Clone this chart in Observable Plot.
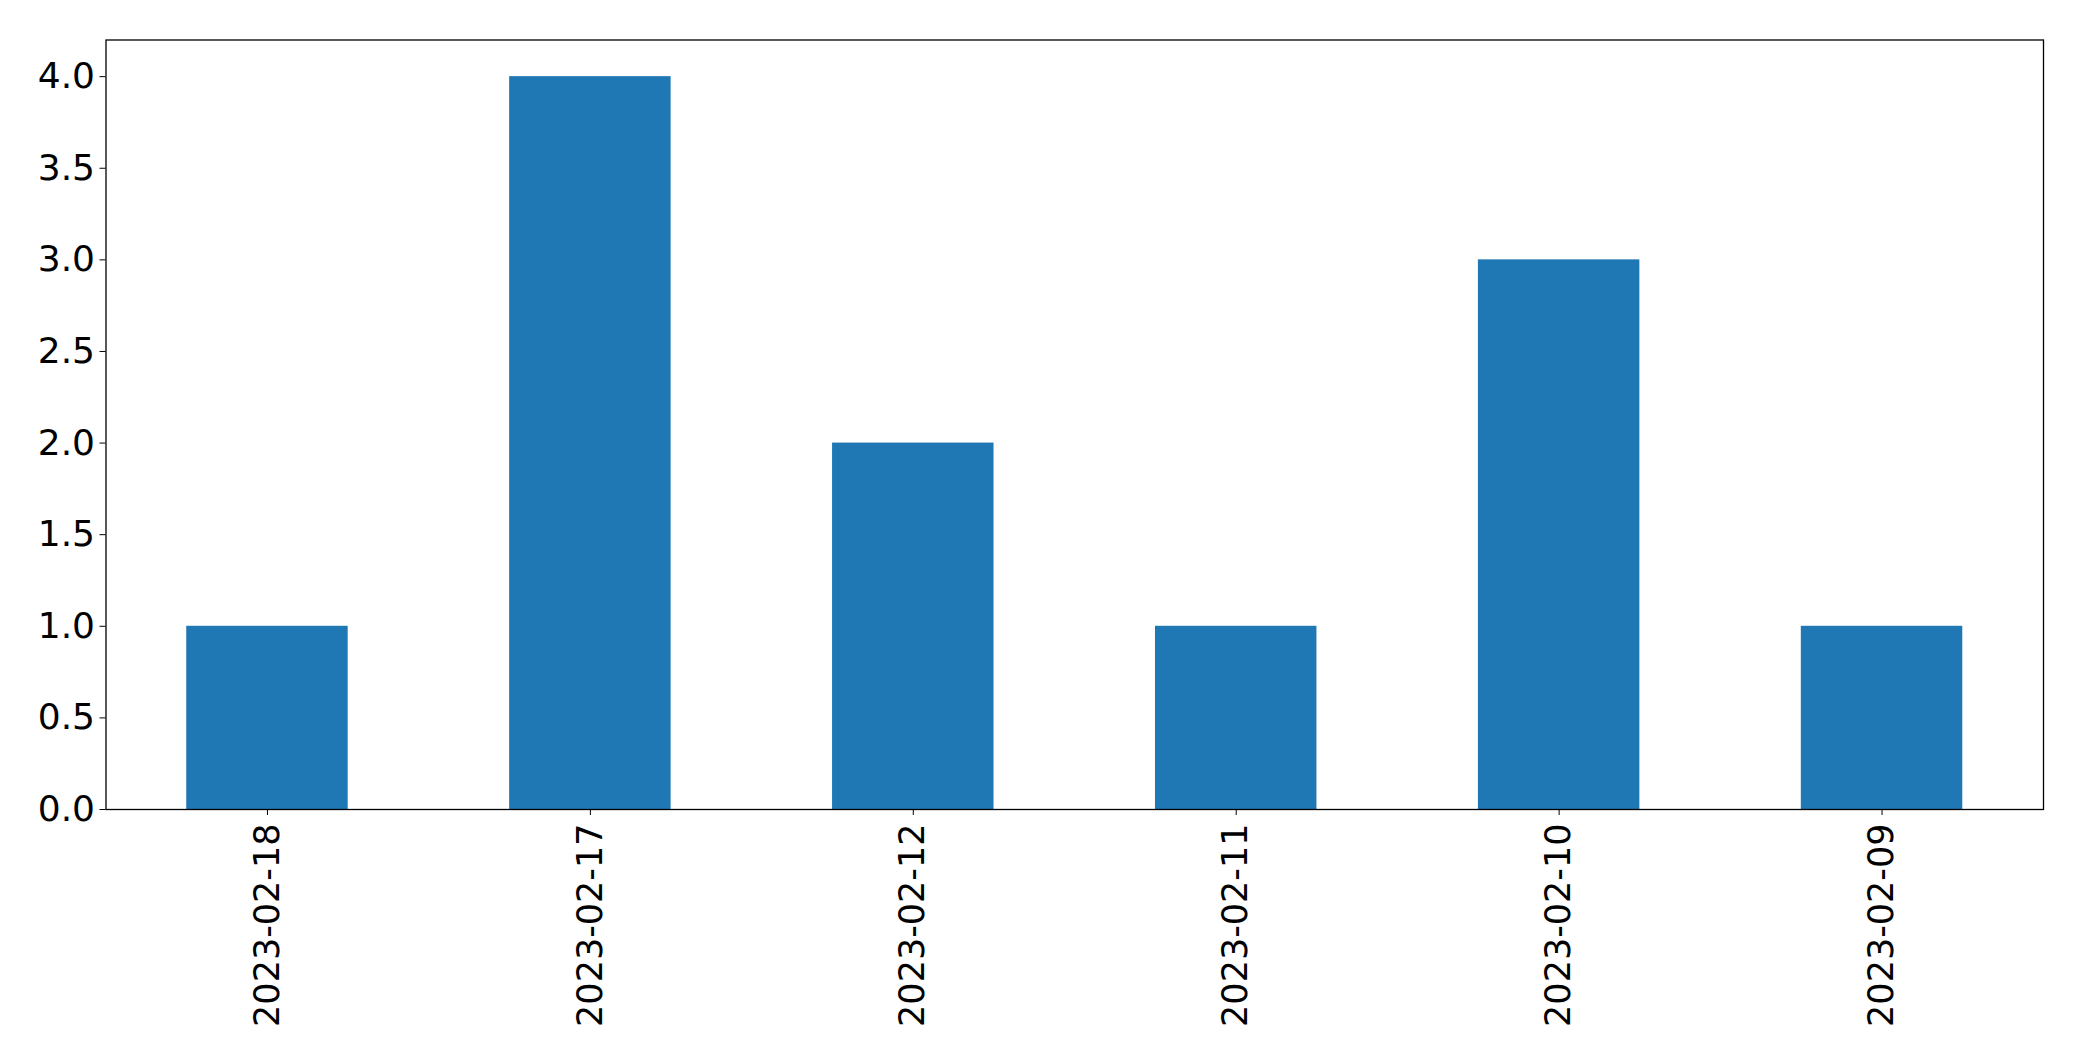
<!DOCTYPE html>
<html>
<head>
<meta charset="utf-8">
<script src="https://cdn.jsdelivr.net/npm/d3@7"></script>
<script src="https://cdn.jsdelivr.net/npm/@observablehq/plot@0.6"></script>
<style>
  html, body { margin: 0; padding: 0; background: #fff; }
  #chart svg { display: block; }
</style>
</head>
<body>
<div id="chart"></div>
<script>
const dates = ["2023-02-18", "2023-02-17", "2023-02-12", "2023-02-11", "2023-02-10", "2023-02-09"];
const counts = [1, 4, 2, 1, 3, 1];
const yTicks = [0, 0.5, 1, 1.5, 2, 2.5, 3, 3.5, 4];

const data = dates.map((d, i) => ({date: d, count: counts[i]}));

const chart = Plot.plot({
  width: 2082,
  height: 1061,
  marginLeft: 105.5,
  marginRight: 39,
  marginTop: 39.5,
  marginBottom: 252,
  style: {fontFamily: "DejaVu Sans", fontSize: "36px", background: "#fff", color: "#000"},
  x: {type: "band", domain: dates, paddingInner: 0.5, paddingOuter: 0.25, round: false, label: null},
  y: {domain: [0, 4.2], label: null},
  marks: [
    Plot.barY(data, {x: "date", y: "count", fill: "#1f77b4"}),
    Plot.axisY({ticks: yTicks, tickFormat: d => d.toFixed(1), tickSize: 6, tickPadding: 5, fontSize: 36, label: null, stroke: "#000"}),
    Plot.axisX({tickRotate: -90, tickSize: 6, tickPadding: 8, fontSize: 35, label: null, stroke: "#000"}),
    Plot.frame({stroke: "#000", strokeWidth: 1.3})
  ]
});
document.getElementById("chart").appendChild(chart);
</script>
</body>
</html>
